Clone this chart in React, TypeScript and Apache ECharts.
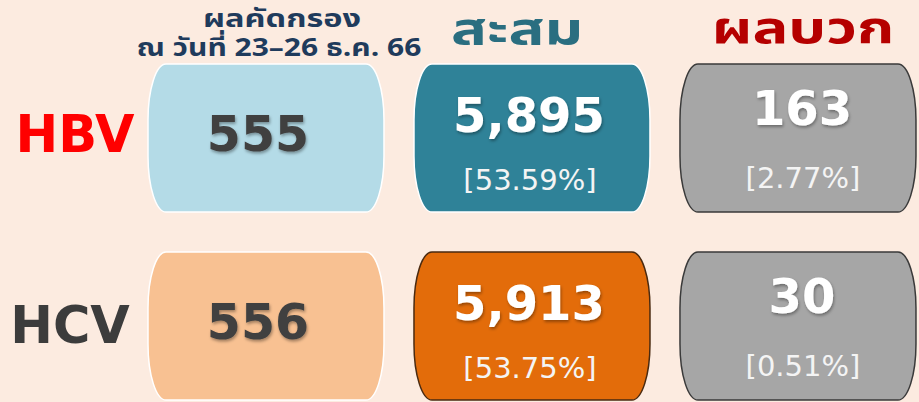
import React, { useEffect, useRef } from "react";
import * as echarts from "echarts";

const rowLabels = ["HBV", "HCV"];
const headerScreen = ["ผลคัดกรอง", "ณ วันที่ 23–26 ธ.ค. 66"];
const headerCumulative = "สะสม";
const headerPositive = "ผลบวก";
const screened = [555, 556];
const cumulative = [5895, 5913];
const cumulativePct = [53.59, 53.75];
const positive = [163, 30];
const positivePct = [2.77, 0.51];

const BG = "#fcebe0";
const NUM_FONT = '"DejaVu Sans", Verdana, sans-serif';
const THAI_FONT = '"Noto Sans Thai", "Noto Sans Thai Looped", Tahoma, "DejaVu Sans", sans-serif';

function barrel(cx: number, cy: number, w: number, h: number, rx: number, ry: number) {
  const x0 = cx - w / 2;
  const x1 = cx + w / 2;
  const y0 = cy - h / 2;
  const y1 = cy + h / 2;
  return (
    `M ${x0 + rx} ${y0} L ${x1 - rx} ${y0} ` +
    `A ${rx} ${ry} 0 0 1 ${x1} ${y0 + ry} L ${x1} ${y1 - ry} ` +
    `A ${rx} ${ry} 0 0 1 ${x1 - rx} ${y1} L ${x0 + rx} ${y1} ` +
    `A ${rx} ${ry} 0 0 1 ${x0} ${y1 - ry} L ${x0} ${y0 + ry} ` +
    `A ${rx} ${ry} 0 0 1 ${x0 + rx} ${y0} Z`
  );
}

const fills = [
  ["#b4dbe7", "#2f8298", "#a6a6a6"],
  ["#f8c192", "#e36c0a", "#a6a6a6"],
];
const strokes = [
  ["#ffffff", "#ffffff", "#3a3a3a"],
  ["#ffffff", "#4a2a10", "#3a3a3a"],
];

export default function App() {
  const ref = useRef<HTMLDivElement>(null);
  useEffect(() => {
    if (!ref.current) return;
    const chart = echarts.init(ref.current, null, { renderer: "svg" });

    const data: any[] = [];
    rowLabels.forEach((_, r) => {
      data.push([0, r, screened[r], null]);
      data.push([1, r, cumulative[r], cumulativePct[r]]);
      data.push([2, r, positive[r], positivePct[r]]);
    });

    const renderItem = (params: any, api: any) => {
      const col = api.value(0);
      const row = api.value(1);
      const val = api.value(2);
      const pct = api.value(3);
      const [cx, cy] = api.coord([col, row]);
      const children: any[] = [
        {
          type: "path",
          shape: { pathData: barrel(cx, cy, 236, 148, 18, 56) },
          style: { fill: fills[row][col], stroke: strokes[row][col], lineWidth: 1.5 },
        },
      ];
      const shadow = {
        textShadowColor: "rgba(0,0,0,0.35)",
        textShadowBlur: 3,
        textShadowOffsetX: 1,
        textShadowOffsetY: 2,
      };
      const tx = col === 2 ? cx + 4 : col === 1 ? cx - 3 : cx - 8;
      if (col === 0) {
        children.push({
          type: "text",
          x: tx,
          y: cy - 4,
          style: {
            text: String(val),
            fill: "#404040",
            font: `bold 49px ${NUM_FONT}`,
            align: "center",
            verticalAlign: "middle",
            textAlign: "center",
            textVerticalAlign: "middle",
            ...shadow,
          },
        });
      } else {
        const vOff = col === 1 ? -23 : -30;
        const pOff = col === 1 ? 42 : 40;
        children.push({
          type: "text",
          x: tx,
          y: cy + vOff,
          style: {
            text: Number(val).toLocaleString("en-US"),
            fill: "#ffffff",
            font: `bold 48px ${NUM_FONT}`,
            align: "center",
            verticalAlign: "middle",
            textAlign: "center",
            textVerticalAlign: "middle",
            ...shadow,
          },
        });
        children.push({
          type: "text",
          x: tx + 1,
          y: cy + pOff,
          style: {
            text: `[${Number(pct).toFixed(2)}%]`,
            fill: "#f4f4f4",
            font: `normal 29px ${NUM_FONT}`,
            align: "center",
            verticalAlign: "middle",
            textAlign: "center",
            textVerticalAlign: "middle",
          },
        });
      }
      return { type: "group", children };
    };

    const t = (text: string, x: number, y: number, fill: string, font: string, sx = 1) => ({
      type: "text",
      x,
      y,
      scaleX: sx,
      style: {
        text,
        fill,
        font,
        align: "center",
        verticalAlign: "middle",
        textAlign: "center",
        textVerticalAlign: "middle",
      },
    });

    chart.setOption({
      animation: false,
      backgroundColor: BG,
      grid: { left: 0, right: 0, top: 0, bottom: 0 },
      xAxis: { type: "value", min: -1, max: 2.455, show: false },
      yAxis: { type: "value", min: -0.734, max: 1.404, inverse: true, show: false },
      series: [
        {
          type: "custom",
          renderItem,
          data,
          silent: true,
        },
      ],
      graphic: [
        t(headerScreen[0], 282, 19, "#1f3b5c", `bold 25px ${THAI_FONT}`, 1.3),
        t(headerScreen[1], 279, 48, "#1f3b5c", `bold 25px ${THAI_FONT}`, 1.2),
        t(headerCumulative, 517, 31, "#2a6e80", `bold 44px ${THAI_FONT}`, 1.36),
        t(headerPositive, 803, 29, "#b50000", `bold 45px ${THAI_FONT}`, 1.33),
        t(rowLabels[0], 75, 134, "#ff0000", `bold 51px ${NUM_FONT}`),
        t(rowLabels[1], 70, 325, "#3c3c3c", `bold 51px ${NUM_FONT}`),
      ],
    });
    return () => chart.dispose();
  }, []);
  return (
    <div
      ref={ref}
      style={{ position: "fixed", left: 0, top: 0, width: 919, height: 402 }}
    />
  );
}
